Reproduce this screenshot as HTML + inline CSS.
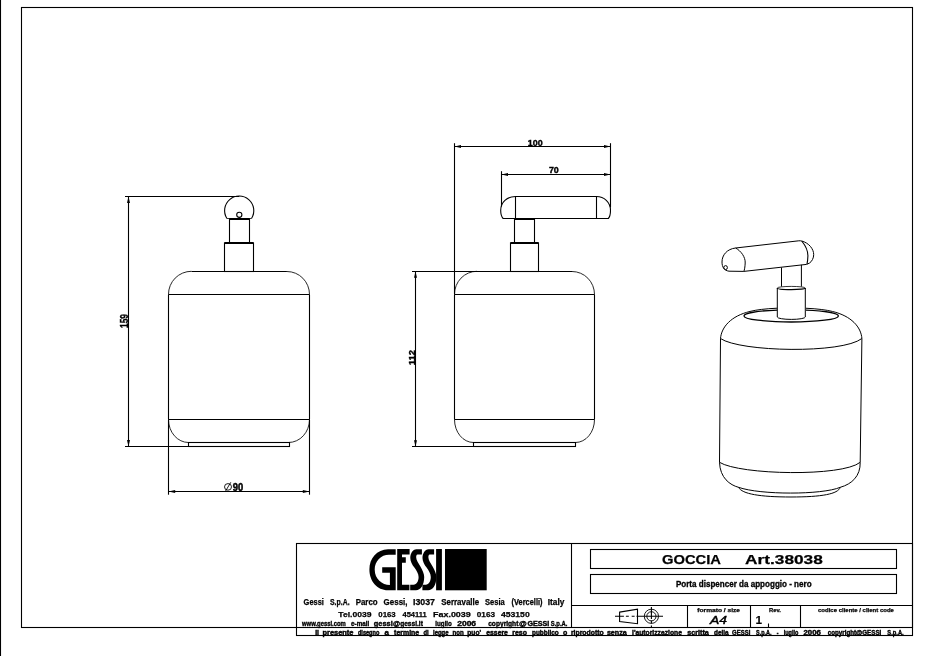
<!DOCTYPE html>
<html><head><meta charset="utf-8">
<style>
html,body{margin:0;padding:0;background:#fff;width:927px;height:656px;overflow:hidden}
svg{display:block;will-change:transform}
text{font-family:"Liberation Sans",sans-serif}
</style></head>
<body>
<svg width="927" height="656" viewBox="0 0 927 656">
<g fill="none" stroke="#000" stroke-width="1.1">
<line x1="0.5" y1="0" x2="0.5" y2="656"/>
<rect x="21.5" y="7.5" width="891" height="620"/>
<rect x="296.5" y="543.5" width="616" height="92"/>
<line x1="571.5" y1="543.5" x2="571.5" y2="627.5"/>
<line x1="571.5" y1="605.5" x2="912.5" y2="605.5"/>
<line x1="687.5" y1="605.5" x2="687.5" y2="627.5"/>
<line x1="750.5" y1="605.5" x2="750.5" y2="627.5"/>
<line x1="800.5" y1="605.5" x2="800.5" y2="627.5"/>
<rect x="590.5" y="549.5" width="306" height="19"/>
<rect x="590.5" y="574.5" width="306" height="19"/>
<line x1="768.5" y1="623.5" x2="768.5" y2="627.5"/>
<path d="M619.6 612.1 L637.5 609.2 L637.5 623.7 L619.6 621.5 Z"/>
<path d="M615 616.3 L623.9 616.3 M625.9 616.3 L628.8 616.3 M631.7 616.3 L634.6 616.3 M636.5 616.3 L663 616.3"/>
<circle cx="651.4" cy="616.3" r="7.1" stroke-width="0.9"/>
<circle cx="651.4" cy="616.3" r="4.6" stroke-width="0.9"/>
<path d="M651.4 606.9 L651.4 618.9 M651.4 620.5 L651.4 623.5 M651.4 625.5 L651.4 627"/>
</g>

<!-- LEFT VIEW -->
<g fill="none" stroke="#000" stroke-width="1.1">
<path d="M226.9 218.5 A14.6 14.6 0 1 1 251.5 218.5"/>
<circle cx="239.3" cy="214.8" r="2.6"/>
<rect x="229.5" y="219" width="20" height="24"/>
<line x1="229.5" y1="219" x2="249.5" y2="219" stroke-width="2"/>
<line x1="226.9" y1="218.5" x2="251.5" y2="218.5" stroke-width="0.8"/>
<rect x="224.5" y="243" width="29" height="28.5"/>
<line x1="224.5" y1="243" x2="253.5" y2="243" stroke-width="2"/>
<path d="M191.5 271.5 L286.9 271.5 M309.5 294.5 L309.5 419.5 M168.5 419.5 L168.5 294.5"/>
<path d="M286.9 271.5 A22.6 23 0 0 1 309.5 294.5 M309.5 419.5 A21 23 0 0 1 288.5 442.5 M188.5 442.5 A20 23 0 0 1 168.5 419.5 M168.5 294.5 A23 23 0 0 1 191.5 271.3" stroke-width="0.85"/>
<line x1="168.5" y1="294.5" x2="309.5" y2="294.5"/>
<line x1="168.5" y1="419.5" x2="309.5" y2="419.5"/>
<rect x="188.5" y="442.5" width="101" height="4"/>
<line x1="125" y1="196.5" x2="239.3" y2="196.5"/>
<line x1="125" y1="446.5" x2="188.5" y2="446.5"/>
<line x1="128.5" y1="196.5" x2="128.5" y2="446.5"/>
<line x1="168.5" y1="419.5" x2="168.5" y2="494.7"/>
<line x1="309.5" y1="419.5" x2="309.5" y2="494.7"/>
<line x1="168.5" y1="491.5" x2="309.5" y2="491.5"/>
</g>
<g fill="#000" stroke="none">
<path d="M128.5 196.5 L127 203 L130 203 Z"/>
<path d="M128.5 446.5 L127 440 L130 440 Z"/>
<path d="M168.5 491.5 L175.2 490 L175.2 493 Z"/>
<path d="M309.5 491.5 L302.8 490 L302.8 493 Z"/>
</g>

<!-- MIDDLE VIEW -->
<g fill="none" stroke="#000" stroke-width="1.1">
<path d="M515.5 196.5 L596.5 196.5 C604 196.5 610.5 202 610.5 210.5 C610.5 214 609.7 217 608.3 218.5 L503.1 218.5 C501.7 217 500.7 214 500.7 210.5 C500.7 202 507 196.5 515.5 196.5 Z"/>
<line x1="515.5" y1="196.5" x2="515.5" y2="218.5"/>
<line x1="596.5" y1="196.5" x2="596.5" y2="218.5"/>
<rect x="514.5" y="219" width="20" height="24"/>
<line x1="514.5" y1="219" x2="534.5" y2="219" stroke-width="2"/>
<rect x="510.5" y="243" width="28" height="28.5"/>
<line x1="510.5" y1="243" x2="538.5" y2="243" stroke-width="2"/>
<path d="M477 271.5 L572 271.5 M594.5 294.5 L594.5 419.5 M454.5 294.5 L454.5 419.5"/>
<path d="M572 271.5 A22.5 23 0 0 1 594.5 294.5 M594.5 419.5 A19 23 0 0 1 575.5 442.5 M473.5 442.5 A19 23 0 0 1 454.5 419.5 M454.5 294.5 A22.5 23 0 0 1 477 271.3" stroke-width="0.85"/>
<line x1="454.5" y1="294.5" x2="594.5" y2="294.5"/>
<line x1="454.5" y1="419.5" x2="594.5" y2="419.5"/>
<rect x="473.5" y="442.5" width="102" height="4"/>
<line x1="454.5" y1="143.2" x2="454.5" y2="294.5"/>
<line x1="610.5" y1="143.2" x2="610.5" y2="207.5"/>
<line x1="454.5" y1="146.5" x2="610.5" y2="146.5"/>
<line x1="501.5" y1="171.2" x2="501.5" y2="206.5"/>
<line x1="501.5" y1="174.5" x2="610.5" y2="174.5"/>
<line x1="412" y1="271.5" x2="477" y2="271.5"/>
<line x1="412" y1="446.5" x2="473.5" y2="446.5"/>
<line x1="415.5" y1="271.5" x2="415.5" y2="446.5"/>
</g>
<g fill="#000" stroke="none">
<path d="M454.5 146.5 L461 145 L461 148 Z"/>
<path d="M610.5 146.5 L604 145 L604 148 Z"/>
<path d="M501.5 174.5 L508 173 L508 176 Z"/>
<path d="M610.5 174.5 L604 173 L604 176 Z"/>
<path d="M415.5 271.5 L414 277.8 L417 277.8 Z"/>
<path d="M415.5 446.5 L414 440.2 L417 440.2 Z"/>
</g>

<g fill="none" stroke="#000" stroke-width="0.9">
<ellipse cx="228" cy="486.9" rx="3.5" ry="3.3"/>
<line x1="225.6" y1="491" x2="230.8" y2="482.3"/>
</g>
<!-- PERSPECTIVE VIEW -->
<g fill="none" stroke="#000" stroke-width="1">
<path d="M735.6 248 L798.8 240.8 C800 240.7 801 240.8 801.7 241"/>
<path d="M743.8 271.4 L806.5 264.4 L809.3 263.2"/>
<path d="M735.6 248 C727 249 722 255 722 262 C722 267 724 270.5 729 271.2 L743.8 271.4"/>
<path d="M735.6 248 C741 251 745.5 257 745.2 263 C745 267 744.5 270 743.8 271.4"/>
<path d="M801.7 241 C809 243 813.7 249 813.7 254.6 C813.7 258 812 261.5 809.3 263.2"/>
<path d="M801.7 241 C805 245 808 250 807.9 256 C807.8 259 807.5 262 807 264.1" stroke-width="1.1"/>
<ellipse cx="725.6" cy="267.6" rx="1.8" ry="2"/>
<line x1="781.5" y1="267.5" x2="781.5" y2="286.6"/>
<line x1="801.4" y1="264.8" x2="801.4" y2="286.6"/>
<path d="M777.3 288 L777.3 317 A14 2.4 0 0 0 805.3 317 L805.3 288"/>
<path d="M777.3 288 A14 1.6 0 0 1 805.3 288" stroke-width="0.8"/>
<path d="M777.3 288 A14 1.6 0 0 0 805.3 288" stroke-width="1.3"/>
<path d="M777.2 308.2 A47.6 7.1 0 0 0 750 311.44 C731 316 721.5 327 720.5 338.5 L719.5 462.3 C720 478 730 485 738.5 487.3 C760 495 822 495 840.3 487.3 C852 484 860.5 476 860.2 462.3 L861.9 338.5 C861 327 851.4 316 832.4 311.44 A47.6 7.1 0 0 0 806 308.25"/>
<path d="M777.2 310.07 A47.2 6.1 0 0 0 744 315.9 A47.2 6.1 0 0 0 838.4 315.9 A47.2 6.1 0 0 0 806 310.1" stroke-width="1.3"/>
<path d="M720.5 338.5 C740 352 842 354 861.9 338.5"/>
<path d="M719.5 462.3 C740 475 842 477 860.2 462.3"/>
<path d="M738.5 487.3 C742 494 760 497 791 497 C822 497 838 494 840.3 487.3"/>
</g>

<!-- TEXT -->
<g fill="#000" stroke="#000" stroke-width="0" font-weight="bold">
<text x="0" y="0" font-size="10.6" stroke-width="0.4" transform="translate(127.6 328) rotate(-90)" textLength="14" lengthAdjust="spacingAndGlyphs">159</text>
<text x="0" y="0" font-size="9.6" stroke-width="0.4" transform="translate(414.5 365.2) rotate(-90)" textLength="15.2" lengthAdjust="spacingAndGlyphs">112</text>
<text x="527.8" y="145.9" font-size="9.6" stroke-width="0.4" textLength="14.9" lengthAdjust="spacingAndGlyphs">100</text>
<text x="548.9" y="173.1" font-size="8.8" stroke-width="0.4" textLength="9.9" lengthAdjust="spacingAndGlyphs">70</text>

<text x="232.8" y="491" font-size="10" stroke-width="0.5" textLength="10.4" lengthAdjust="spacingAndGlyphs">90</text>

<text x="662" y="563.9" font-size="13" stroke-width="0.25" textLength="59" lengthAdjust="spacingAndGlyphs">GOCCIA</text>
<text x="745.1" y="563.9" font-size="13" stroke-width="0.25" textLength="77.7" lengthAdjust="spacingAndGlyphs">Art.38038</text>
<text x="675.9" y="587.2" font-size="9.5" stroke="#000" stroke-width="0.35" textLength="135.7" lengthAdjust="spacingAndGlyphs">Porta dispencer da appoggio - nero</text>

<text x="697.3" y="611.7" font-size="5.5" stroke="#000" stroke-width="0.25" textLength="42.7" lengthAdjust="spacingAndGlyphs">formato / size</text>
<text x="769" y="611.7" font-size="5.5" stroke="#000" stroke-width="0.25" textLength="11.8" lengthAdjust="spacingAndGlyphs">Rev.</text>
<text x="818" y="611.7" font-size="5.5" stroke="#000" stroke-width="0.25" textLength="75.9" lengthAdjust="spacingAndGlyphs">codice cliente / client code</text>
<text x="710" y="624" font-size="11.8" font-weight="normal" stroke="#000" stroke-width="0.45" font-style="italic" textLength="17" lengthAdjust="spacingAndGlyphs">A4</text>
<text x="755.6" y="624" font-size="11.8" stroke-width="0.1">1</text>
<text x="303.6" y="604.6" font-size="8.4" stroke-width="0.25" textLength="20.3" lengthAdjust="spacingAndGlyphs">Gessi</text>
<text x="330" y="604.6" font-size="8.4" stroke-width="0.25" textLength="19.6" lengthAdjust="spacingAndGlyphs">S.p.A.</text>
<text x="355.7" y="604.6" font-size="8.4" stroke-width="0.25" textLength="21.9" lengthAdjust="spacingAndGlyphs">Parco</text>
<text x="383.6" y="604.6" font-size="8.4" stroke-width="0.25" textLength="23.9" lengthAdjust="spacingAndGlyphs">Gessi,</text>
<text x="413" y="604.6" font-size="8.4" stroke-width="0.25" textLength="22.0" lengthAdjust="spacingAndGlyphs">I3037</text>
<text x="441.3" y="604.6" font-size="8.4" stroke-width="0.25" textLength="37.8" lengthAdjust="spacingAndGlyphs">Serravalle</text>
<text x="485.1" y="604.6" font-size="8.4" stroke-width="0.25" textLength="19.7" lengthAdjust="spacingAndGlyphs">Sesia</text>
<text x="511.6" y="604.6" font-size="8.4" stroke-width="0.25" textLength="30.9" lengthAdjust="spacingAndGlyphs">(Vercelli)</text>
<text x="547.8" y="604.6" font-size="8.4" stroke-width="0.25" textLength="16.6" lengthAdjust="spacingAndGlyphs">Italy</text>
<text x="338.3" y="616.7" font-size="7.9" stroke-width="0.25" textLength="33.2" lengthAdjust="spacingAndGlyphs">Tel.0039</text>
<text x="378.3" y="616.7" font-size="7.9" stroke-width="0.25" textLength="17.4" lengthAdjust="spacingAndGlyphs">0163</text>
<text x="402.5" y="616.7" font-size="7.9" stroke-width="0.25" textLength="24.2" lengthAdjust="spacingAndGlyphs">454111</text>
<text x="433" y="616.7" font-size="7.9" stroke-width="0.25" textLength="37.8" lengthAdjust="spacingAndGlyphs">Fax.0039</text>
<text x="476.8" y="616.7" font-size="7.9" stroke-width="0.25" textLength="18.2" lengthAdjust="spacingAndGlyphs">0163</text>
<text x="501" y="616.7" font-size="7.9" stroke-width="0.25" textLength="28.7" lengthAdjust="spacingAndGlyphs">453150</text>
<text x="302" y="625.6" font-size="6.6" stroke-width="0.35" textLength="43.8" lengthAdjust="spacingAndGlyphs">www.gessi.com</text>
<text x="351.1" y="625.6" font-size="6.6" stroke-width="0.35" textLength="18.2" lengthAdjust="spacingAndGlyphs">e-mail</text>
<text x="373.8" y="625.6" font-size="6.6" stroke-width="0.35" textLength="18.9" lengthAdjust="spacingAndGlyphs">gessi</text>
<text x="392.9" y="625.6" font-size="6.6" stroke-width="0.35" textLength="7.1" lengthAdjust="spacingAndGlyphs">@</text>
<text x="400.2" y="625.6" font-size="6.6" stroke-width="0.35" textLength="22.7" lengthAdjust="spacingAndGlyphs">gessi.it</text>
<text x="435.3" y="625.6" font-size="6.6" stroke-width="0.35" textLength="16.6" lengthAdjust="spacingAndGlyphs">luglio</text>
<text x="457.2" y="625.6" font-size="6.6" stroke-width="0.35" textLength="18.9" lengthAdjust="spacingAndGlyphs">2006</text>
<text x="488.2" y="625.6" font-size="6.6" stroke-width="0.35" textLength="30.2" lengthAdjust="spacingAndGlyphs">copyright</text>
<text x="519" y="625.6" font-size="6.6" stroke-width="0.35" textLength="7.7" lengthAdjust="spacingAndGlyphs">@</text>
<text x="527.4" y="625.6" font-size="6.6" stroke-width="0.35" textLength="21.9" lengthAdjust="spacingAndGlyphs">GESSI</text>
<text x="550.8" y="625.6" font-size="6.6" stroke-width="0.35" textLength="16.7" lengthAdjust="spacingAndGlyphs">S.p.A.</text>
<text x="315.2" y="635.0" font-size="6.6" stroke-width="0.4" textLength="3.8" lengthAdjust="spacingAndGlyphs">Il</text>
<text x="322.5" y="635.0" font-size="6.6" stroke-width="0.4" textLength="31.0" lengthAdjust="spacingAndGlyphs">presente</text>
<text x="357.9" y="635.0" font-size="6.6" stroke-width="0.4" textLength="21.5" lengthAdjust="spacingAndGlyphs">disegno</text>
<text x="384.6" y="635.0" font-size="6.6" stroke-width="0.4" textLength="4.4" lengthAdjust="spacingAndGlyphs">a</text>
<text x="394.1" y="635.0" font-size="6.6" stroke-width="0.4" textLength="25.1" lengthAdjust="spacingAndGlyphs">termine</text>
<text x="423.5" y="635.0" font-size="6.6" stroke-width="0.4" textLength="5.2" lengthAdjust="spacingAndGlyphs">di</text>
<text x="433" y="635.0" font-size="6.6" stroke-width="0.4" textLength="15.5" lengthAdjust="spacingAndGlyphs">legge</text>
<text x="452.6" y="635.0" font-size="6.6" stroke-width="0.4" textLength="11.2" lengthAdjust="spacingAndGlyphs">non</text>
<text x="467.3" y="635.0" font-size="6.6" stroke-width="0.4" textLength="13.8" lengthAdjust="spacingAndGlyphs">puo&#39;</text>
<text x="486.3" y="635.0" font-size="6.6" stroke-width="0.4" textLength="21.6" lengthAdjust="spacingAndGlyphs">essere</text>
<text x="512.2" y="635.0" font-size="6.6" stroke-width="0.4" textLength="14.7" lengthAdjust="spacingAndGlyphs">reso</text>
<text x="532" y="635.0" font-size="6.6" stroke-width="0.4" textLength="26.8" lengthAdjust="spacingAndGlyphs">pubblico</text>
<text x="563.1" y="635.0" font-size="6.6" stroke-width="0.4" textLength="4.3" lengthAdjust="spacingAndGlyphs">o</text>
<text x="570.9" y="635.0" font-size="6.6" stroke-width="0.4" textLength="32.8" lengthAdjust="spacingAndGlyphs">riprodotto</text>
<text x="606.9" y="635.0" font-size="6.6" stroke-width="0.4" textLength="19.9" lengthAdjust="spacingAndGlyphs">senza</text>
<text x="632" y="635.0" font-size="6.6" stroke-width="0.4" textLength="50.0" lengthAdjust="spacingAndGlyphs">l&#39;autorizzazione</text>
<text x="687.2" y="635.0" font-size="6.6" stroke-width="0.4" textLength="21.6" lengthAdjust="spacingAndGlyphs">scritta</text>
<text x="714" y="635.0" font-size="6.6" stroke-width="0.4" textLength="14.7" lengthAdjust="spacingAndGlyphs">della</text>
<text x="732.1" y="635.0" font-size="6.6" stroke-width="0.4" textLength="18.2" lengthAdjust="spacingAndGlyphs">GESSI</text>
<text x="756" y="635.0" font-size="6.6" stroke-width="0.4" textLength="15.6" lengthAdjust="spacingAndGlyphs">S.p.A.</text>
<text x="776.8" y="635.0" font-size="6.6" stroke-width="0.4" textLength="1.7" lengthAdjust="spacingAndGlyphs">-</text>
<text x="783.7" y="635.0" font-size="6.6" stroke-width="0.4" textLength="14.7" lengthAdjust="spacingAndGlyphs">luglio</text>
<text x="803.5" y="635.0" font-size="6.6" stroke-width="0.4" textLength="17.3" lengthAdjust="spacingAndGlyphs">2006</text>
<text x="827.7" y="635.0" font-size="6.6" stroke-width="0.4" textLength="53.6" lengthAdjust="spacingAndGlyphs">copyright@GESSI</text>
<text x="887.3" y="635.0" font-size="6.6" stroke-width="0.4" textLength="16.4" lengthAdjust="spacingAndGlyphs">S.p.A.</text>
</g>

<!-- GESSI LOGO -->
<g fill="#000">
<path d="M395.7 549.2 L388 549.2 C377 549.5 369.4 558 369.4 569.5 C369.4 581 377 590.3 388 590.3 L395.7 590.3 L395.7 567.3 L382.2 567.3 L382.2 572.8 L389.9 572.8 L389.9 585 C382 585 374.7 579 374.7 569.5 C374.7 561 381 554.7 389 554.7 L395.7 554.7 Z"/>
<path d="M397.2 549 L409.6 549 L409.6 554.5 L402 554.5 L402 557.2 L405.8 557.2 L405.8 562.7 L402 562.7 L402 584.8 L409.4 584.8 L409.4 590.3 L397.2 590.3 Z"/>
<path d="M421.9 549.2 L416.4 549.2 C412.6 549.4 410.3 553.6 410.3 558 C410.3 561.5 412.2 564.8 414.4 567.6 C416.5 570.5 418.6 574 418.6 577.1 C418.6 581 416.8 584.8 413.5 584.8 L410.2 584.8 L410.2 590.3 L416 590.3 C420.5 590.3 424.2 585 424.2 577 C424.2 573.5 422.5 570.5 420.4 566.5 C418.5 563 416.2 560 416.2 557.5 C416.2 556 416.4 554.6 417.5 554.6 L421.9 554.6 Z"/>
<path transform="translate(12.2 0)" d="M421.9 549.2 L416.4 549.2 C412.6 549.4 410.3 553.6 410.3 558 C410.3 561.5 412.2 564.8 414.4 567.6 C416.5 570.5 418.6 574 418.6 577.1 C418.6 581 416.8 584.8 413.5 584.8 L410.2 584.8 L410.2 590.3 L416 590.3 C420.5 590.3 424.2 585 424.2 577 C424.2 573.5 422.5 570.5 420.4 566.5 C418.5 563 416.2 560 416.2 557.5 C416.2 556 416.4 554.6 417.5 554.6 L421.9 554.6 Z"/>
<rect x="436.1" y="549" width="5.8" height="41.3"/>
<rect x="445" y="549" width="41.7" height="41.3"/>
</g>
</svg>
</body></html>
